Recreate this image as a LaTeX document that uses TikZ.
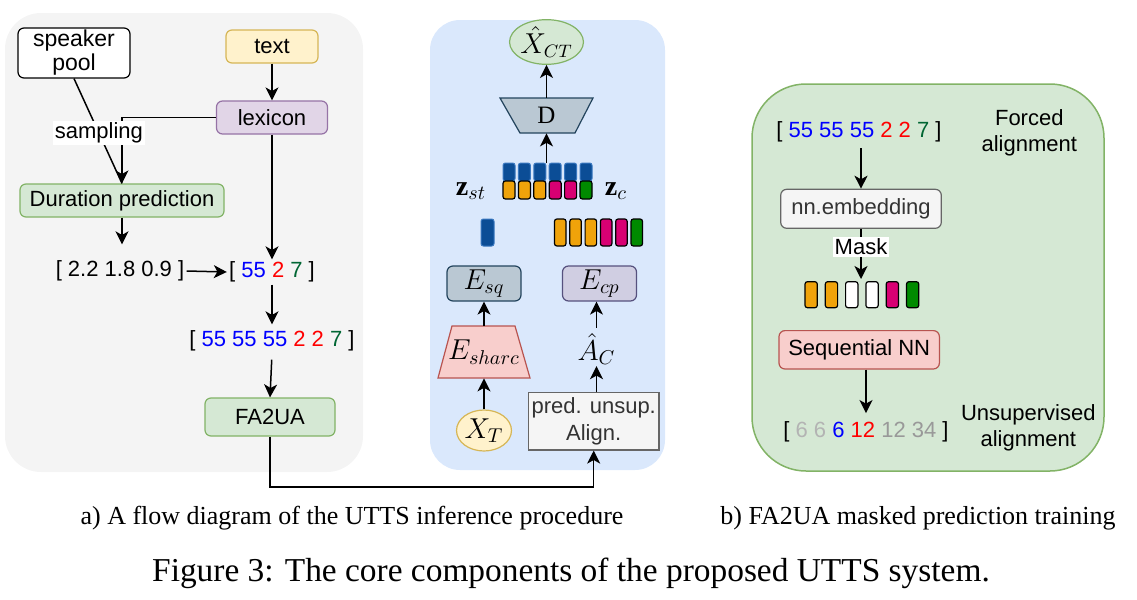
\documentclass[tikz,border=0pt]{standalone}
\usepackage{fontspec}
\setmainfont{Liberation Serif}
\newfontfamily\arial{Liberation Sans}
\usetikzlibrary{arrows.meta,shapes.geometric,calc}
\definecolor{gpanel}{HTML}{F4F4F4}
\definecolor{bpanel}{HTML}{DAE8FC}
\definecolor{greenF}{HTML}{D5E8D4}
\definecolor{greenD}{HTML}{82B366}
\definecolor{yellowF}{HTML}{FFF2CC}
\definecolor{yellowD}{HTML}{D6B656}
\definecolor{purpF}{HTML}{E1D5E7}
\definecolor{purpD}{HTML}{9673A6}
\definecolor{grayB}{HTML}{BAC8D3}
\definecolor{grayBD}{HTML}{23445D}
\definecolor{lavF}{HTML}{D0CEE2}
\definecolor{lavD}{HTML}{56517E}
\definecolor{redF}{HTML}{F8CECC}
\definecolor{redD}{HTML}{B85450}
\definecolor{lgF}{HTML}{F5F5F5}
\definecolor{lgD}{HTML}{666666}
\definecolor{lgT}{HTML}{333333}
\definecolor{orangeB}{HTML}{F0A30A}
\definecolor{magB}{HTML}{D80073}
\definecolor{greenB}{HTML}{008A00}
\definecolor{barblue}{HTML}{0B4D96}
\definecolor{barblueD}{HTML}{3A78C0}
\definecolor{numblue}{HTML}{0000FF}
\definecolor{numred}{HTML}{FF0000}
\definecolor{numgreen}{HTML}{006633}
\definecolor{gA}{HTML}{B3B3B3}
\definecolor{gB}{HTML}{999999}
\tikzset{
  sf/.style={font=\arial\fontsize{11}{12.5}\selectfont},
  mathf/.style={font=\fontsize{14}{16}\selectfont},
  box/.style={draw, rounded corners=3pt, line width=0.6pt, sf, align=center, inner sep=0pt},
  seqtxt/.style={sf, inner sep=1pt},
  arr/.style={-{Stealth[length=6.5pt,width=6.5pt,inset=1.8pt]}, line width=0.75pt},
  cbar/.style={draw=black, line width=0.6pt, rounded corners=1.2pt},
  bbar/.style={fill=barblue, draw=barblueD, line width=0.5pt, rounded corners=1.2pt},
}
\begin{document}
\begin{tikzpicture}[x=0.5pt,y=-0.5pt]
\useasboundingbox (0,0) rectangle (1137,600);
% panels
\fill[gpanel, rounded corners=18pt] (5,13) rectangle (363,472);
\fill[bpanel, rounded corners=15pt] (430,20) rectangle (665,470);
\draw[fill=greenF, draw=greenD, line width=0.75pt, rounded corners=27pt] (752,84) rectangle (1104,471);

% ---------- left panel ----------
\node[box, fill=white, minimum width=56pt, minimum height=25pt, font=\arial\fontsize{11.5}{12}\selectfont] (spk) at (74,53) {speaker\\pool};
\node[box, fill=yellowF, draw=yellowD, minimum width=46pt, minimum height=16.5pt] (txt) at (272,46.5) {text};
\node[box, fill=purpF, draw=purpD, minimum width=55.5pt, minimum height=16.5pt] (lex) at (272,117.5) {lexicon};
\node[box, fill=greenF, draw=greenD, minimum width=102pt, minimum height=16.5pt] (dur) at (122,200.5) {Duration prediction};
\node[seqtxt] (d1) at (120,271) {[ 2.2 1.8 0.9 ]};
\node[seqtxt] (d2) at (272,272) {[ \textcolor{numblue}{55} \textcolor{numred}{2} \textcolor{numgreen}{7} ]};
\node[seqtxt] (d3) at (272,341) {[ \textcolor{numblue}{55 55 55} \textcolor{numred}{2 2} \textcolor{numgreen}{7} ]};
\node[box, fill=greenF, draw=greenD, minimum width=65pt, minimum height=19pt] (fa) at (270,417) {FA2UA};

\draw[arr] (txt.south) -- (lex.north);
\draw[arr] (lex.west) -| (dur.north);
\draw[line width=0.75pt] (spk.south) -- node[pos=0.52, fill=white, inner sep=1pt, sf] {sampling} (dur.north);
\draw[arr, shorten >=7pt] (dur.south) -- (dur.south |- d1.north);
\draw[arr] (lex.south) -- (d2.north);
\draw[arr] (d1.east) -- (d2.west);
\draw[arr, shorten >=2pt] (d2.south) -- (d3.north);
\draw[arr, shorten <=3pt] (d3.south) -- (fa.north);

% ---------- middle panel ----------
\node[ellipse, draw=greenD, fill=greenF, line width=0.6pt, minimum width=24pt, minimum height=21.5pt, inner sep=0pt, font=\fontsize{13.5}{15}\selectfont] (xct) at (546.5,42) {$\hat{X}_{CT}$};
\filldraw[fill=grayB, draw=grayBD, line width=0.6pt] (500,98) -- (593,98) -- (575,133) -- (520,133) -- cycle;
\node[minimum width=46.5pt, minimum height=17.5pt, inner sep=0pt, font=\fontsize{12.5}{14}\selectfont] (D) at (546.5,115.5) {$\mathrm{D}$};
\draw[arr] (D.north) -- (xct.south);

\foreach \c [count=\i from 0] in {orangeB,orangeB,orangeB,magB,magB,greenB} {
  \filldraw[bbar] ({503+15.4*\i},163) rectangle ++(12,18);
  \filldraw[cbar, fill=\c] ({503+15.4*\i},181) rectangle ++(12,18);
}
\coordinate (zs) at (546.5,163);
\draw[arr] (zs) -- (D.south);
\node[mathf] (zst) at (471,191) {$\mathbf{z}_{st}$};
\node[mathf] (zc) at (616,191) {$\mathbf{z}_{c}$};

\filldraw[bbar] (481,219) rectangle (494,246);
\foreach \c [count=\i from 0] in {orangeB,orangeB,orangeB,magB,magB,greenB} {
  \filldraw[cbar, fill=\c] ({554.5+15.3*\i},219) rectangle ++(11.5,27);
}

\node[box, fill=grayB, draw=grayBD, minimum width=37pt, minimum height=17.5pt, mathf] (esq) at (484,283.5) {$E_{sq}$};
\node[box, fill=lavF, draw=lavD, minimum width=37pt, minimum height=17.5pt, mathf] (ecp) at (599.5,283.5) {$E_{cp}$};
\filldraw[fill=redF, draw=redD, line width=0.6pt] (438,378) -- (530,378) -- (515,326) -- (452,326) -- cycle;
\node[minimum width=46pt, minimum height=26pt, inner sep=0pt, mathf] (esh) at (484,352) {$E_{sharc}$};
\node[ellipse, draw=yellowD, fill=yellowF, line width=0.6pt, minimum width=22pt, minimum height=20.5pt, inner sep=0pt, mathf] (xt) at (484,430.5) {$X_{T}$};
\node[mathf, inner sep=0.5pt] (ac) at (596.5,349) {$\hat{A}_{C}$};
\node[box, rounded corners=0pt, fill=lgF, draw=lgD, text=lgT, minimum width=65.3pt, minimum height=28.7pt, font=\arial\fontsize{11}{13.5}\selectfont] (pred) at (593.7,421.3) {pred. unsup.\\Align.};

\draw[arr] (esh.north) -- (esq.south);
\draw[arr] (xt.north) -- (esh.south);
\draw[arr] (pred.north -| ac.south) -- (ac.south);
\draw[arr, shorten <=2pt] (ac.north) -- (ac.north |- ecp.south);

\coordinate (c1) at (270,487);
\draw[arr] (fa.south) -- (c1) -| (pred.south);

% ---------- right panel ----------
\node[seqtxt] (fa2) at (859,131.7) {[ \textcolor{numblue}{55 55 55} \textcolor{numred}{2 2} \textcolor{numgreen}{7} ]};
\node[sf, align=center, font=\arial\fontsize{11}{13}\selectfont] (forced) at (1029.3,133.3) {Forced\\alignment};
\node[box, fill=lgF, draw=lgD, text=lgT, minimum width=80.3pt, minimum height=19.5pt] (nn) at (861,208.8) {nn.embedding};
\draw[arr, shorten <=2pt] (nn.north |- fa2.south) -- (nn.north);
\coordinate (mk) at (861,279);
\draw[arr] (nn.south) -- node[pos=0.36, fill=white, inner sep=1pt, sf] {Mask} (mk);
\foreach \c [count=\i from 0] in {orangeB,orangeB,white,white,magB,greenB} {
  \filldraw[cbar, fill=\c] ({805+20.3*\i},281.7) rectangle ++(12.3,26);
}
\node[box, fill=redF, draw=redD, minimum width=80.2pt, minimum height=19.2pt] (seq) at (859.2,349.8) {Sequential NN};
\node[seqtxt] (uns) at (866,431.7) {[ \textcolor{gA}{6 6} \textcolor{numblue}{6} \textcolor{numred}{12} \textcolor{gB}{12 34} ]};
\draw[arr, shorten >=3pt] (seq.south -| uns.north) -- (uns.north);
\node[sf, align=center, font=\arial\fontsize{11}{13}\selectfont] (unsl) at (1028.3,428.3) {Unsupervised\\alignment};

% ---------- captions ----------
\node[font=\fontsize{13}{15}\selectfont] (capa) at (352,518) {a) A flow diagram of the UTTS inference procedure};
\node[font=\fontsize{13}{15}\selectfont] (capb) at (918,518) {b) FA2UA masked prediction training};
\node[font=\fontsize{16.7}{19}\selectfont] (cap) at (571,573) {Figure 3: The core components of the proposed UTTS system.};
\end{tikzpicture}
\end{document}
